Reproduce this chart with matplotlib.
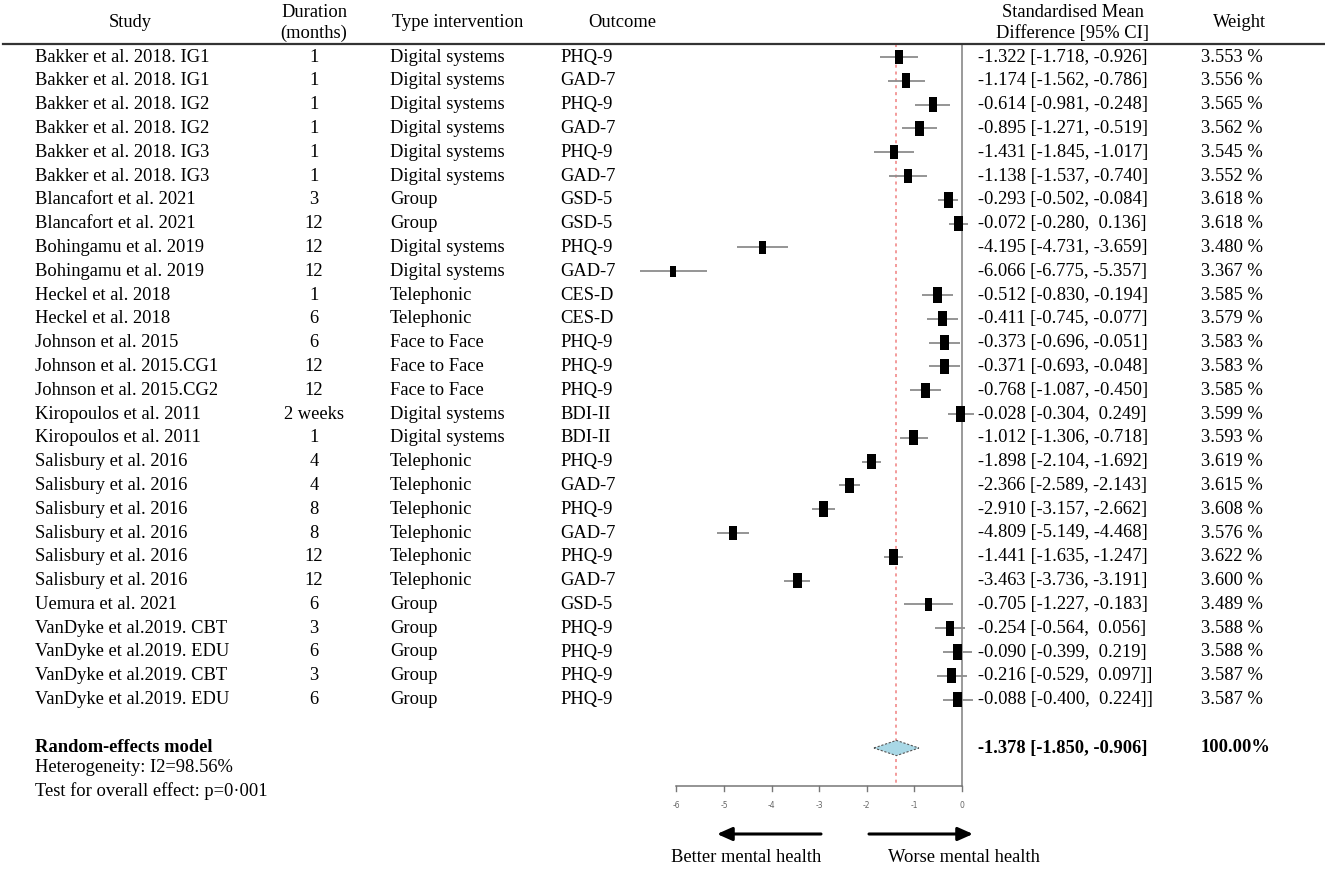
import matplotlib
matplotlib.use("Agg")
import matplotlib.pyplot as plt
from matplotlib.path import Path
from matplotlib.patches import Polygon
import numpy as np

plt.rcParams['font.family'] = ['Liberation Serif', 'DejaVu Serif']

# ---------------- data ----------------
studies = ["Bakker et al. 2018. IG1", "Bakker et al. 2018. IG1", "Bakker et al. 2018. IG2",
           "Bakker et al. 2018. IG2", "Bakker et al. 2018. IG3", "Bakker et al. 2018. IG3",
           "Blancafort et al. 2021", "Blancafort et al. 2021", "Bohingamu et al. 2019",
           "Bohingamu et al. 2019", "Heckel et al. 2018", "Heckel et al. 2018",
           "Johnson et al. 2015", "Johnson et al. 2015.CG1", "Johnson et al. 2015.CG2",
           "Kiropoulos et al. 2011", "Kiropoulos et al. 2011", "Salisbury et al. 2016",
           "Salisbury et al. 2016", "Salisbury et al. 2016", "Salisbury et al. 2016",
           "Salisbury et al. 2016", "Salisbury et al. 2016", "Uemura et al. 2021",
           "VanDyke et al.2019. CBT", "VanDyke et al.2019. EDU", "VanDyke et al.2019. CBT",
           "VanDyke et al.2019. EDU"]
durations = ["1", "1", "1", "1", "1", "1", "3", "12", "12", "12", "1", "6", "6", "12", "12",
             "2 weeks", "1", "4", "4", "8", "8", "12", "12", "6", "3", "6", "3", "6"]
interventions = ["Digital systems"] * 6 + ["Group"] * 2 + ["Digital systems"] * 2 + \
                ["Telephonic"] * 2 + ["Face to Face"] * 3 + ["Digital systems"] * 2 + \
                ["Telephonic"] * 6 + ["Group"] * 5
outcomes = ["PHQ-9", "GAD-7", "PHQ-9", "GAD-7", "PHQ-9", "GAD-7", "GSD-5", "GSD-5",
            "PHQ-9", "GAD-7", "CES-D", "CES-D", "PHQ-9", "PHQ-9", "PHQ-9", "BDI-II", "BDI-II",
            "PHQ-9", "GAD-7", "PHQ-9", "GAD-7", "PHQ-9", "GAD-7", "GSD-5", "PHQ-9", "PHQ-9",
            "PHQ-9", "PHQ-9"]
smd = [-1.322, -1.174, -0.614, -0.895, -1.431, -1.138, -0.293, -0.072, -4.195, -6.066,
       -0.512, -0.411, -0.373, -0.371, -0.768, -0.028, -1.012, -1.898, -2.366, -2.910,
       -4.809, -1.441, -3.463, -0.705, -0.254, -0.090, -0.216, -0.088]
ci_low = [-1.718, -1.562, -0.981, -1.271, -1.845, -1.537, -0.502, -0.280, -4.731, -6.775,
          -0.830, -0.745, -0.696, -0.693, -1.087, -0.304, -1.306, -2.104, -2.589, -3.157,
          -5.149, -1.635, -3.736, -1.227, -0.564, -0.399, -0.529, -0.400]
ci_high = [-0.926, -0.786, -0.248, -0.519, -1.017, -0.740, -0.084, 0.136, -3.659, -5.357,
           -0.194, -0.077, -0.051, -0.048, -0.450, 0.249, -0.718, -1.692, -2.143, -2.662,
           -4.468, -1.247, -3.191, -0.183, 0.056, 0.219, 0.097, 0.224]
ci_suffix = [""] * 26 + ["]", "]"]
weights = [3.553, 3.556, 3.565, 3.562, 3.545, 3.552, 3.618, 3.618, 3.480, 3.367,
           3.585, 3.579, 3.583, 3.583, 3.585, 3.599, 3.593, 3.619, 3.615, 3.608,
           3.576, 3.622, 3.600, 3.489, 3.588, 3.588, 3.587, 3.587]
pooled_est, pooled_low, pooled_high = -1.378, -1.850, -0.906
pooled_weight = 100.00
heterogeneity_text = "Heterogeneity: I2=98.56%"
overall_text = "Test for overall effect: p=0\u00b7001"
x_ticks = [-6, -5, -4, -3, -2, -1, 0]

# ---------------- layout ----------------
W, H = 1325, 869
fig = plt.figure(figsize=(W / 100, H / 100), dpi=100)
ax = fig.add_axes([0, 0, 1, 1])
ax.set_axis_off()

px0, ppu = 962.0, 47.6          # pixel of x=0, pixels per unit
row0, rowh = 57.0, 23.8         # pixel of first row, row height
ax.set_xlim((0 - px0) / ppu, (W - px0) / ppu)
ax.set_ylim((H - row0) / rowh, (0 - row0) / rowh)


def ry(py):
    return (py - row0) / rowh


def fx(px):
    return px / W


T = ax.get_yaxis_transform()  # x in axes fraction, y in data rows
FS = 13.3
n = len(studies)
rows = np.arange(n)

# headers
ax.text(fx(130), ry(22), "Study", transform=T, ha='center', va='center', fontsize=FS)
ax.text(fx(314), ry(12), "Duration", transform=T, ha='center', va='center', fontsize=FS)
ax.text(fx(314), ry(33), "(months)", transform=T, ha='center', va='center', fontsize=FS)
ax.text(fx(392), ry(22), "Type intervention", transform=T, ha='left', va='center', fontsize=FS)
ax.text(fx(588), ry(22), "Outcome", transform=T, ha='left', va='center', fontsize=FS)
ax.text(fx(1073), ry(12), "Standardised Mean", transform=T, ha='center', va='center', fontsize=FS)
ax.text(fx(1073), ry(33), "Difference [95% CI]", transform=T, ha='center', va='center', fontsize=FS)
ax.text(fx(1240), ry(22), "Weight", transform=T, ha='center', va='center', fontsize=FS)
ax.plot([fx(3), fx(1325)], [ry(44), ry(44)], transform=T, color='#333333', lw=1.6,
        clip_on=False)

# table rows
for i in range(n):
    ax.text(fx(35), i, studies[i], transform=T, ha='left', va='center', fontsize=FS)
    ax.text(fx(314), i, durations[i], transform=T, ha='center', va='center', fontsize=FS)
    ax.text(fx(390), i, interventions[i], transform=T, ha='left', va='center', fontsize=FS)
    ax.text(fx(560), i, outcomes[i], transform=T, ha='left', va='center', fontsize=FS)
    ci_txt = f"{smd[i]:.3f} [{ci_low[i]:.3f}, {ci_high[i]:6.3f}]" + ci_suffix[i]
    ax.text(fx(978), i, ci_txt, transform=T, ha='left', va='center', fontsize=FS)
    ax.text(fx(1201), i, f"{weights[i]:.3f} %", transform=T, ha='left', va='center',
            fontsize=FS)

# reference lines
top, axis_y = ry(44), ry(786)
ax.plot([0, 0], [top, axis_y], color='#9a9a9a', lw=1.4, zorder=1)
ax.plot([pooled_est, pooled_est], [top, axis_y], color='#f08080', lw=1.1,
        linestyle=(0, (2, 2.5)), zorder=1)

# confidence intervals and point estimates
ax.hlines(rows, ci_low, ci_high, color='#8c8c8c', lw=1.3, zorder=2)
rect = Path([(-4, -7), (4, -7), (4, 7), (-4, 7), (-4, -7)],
            [Path.MOVETO, Path.LINETO, Path.LINETO, Path.LINETO, Path.CLOSEPOLY])
w_arr = np.array(weights)
h_px = 14.5 + (w_arr - 3.55) * 18
sizes = (h_px * 72 / 100) ** 2
ax.scatter(smd, rows, s=sizes, marker=rect, color='black', linewidths=0, zorder=3)

# pooled diamond
sr = ry(748)
dh = 0.32
diamond = Polygon([(pooled_low, sr), (pooled_est, sr - dh), (pooled_high, sr),
                   (pooled_est, sr + dh)], closed=True, facecolor='#a9d8e6',
                  edgecolor='#555555', lw=0.8, linestyle=(0, (2, 1.5)), zorder=3)
ax.add_patch(diamond)
ax.text(fx(35), sr, "Random-effects model", transform=T, ha='left', va='center',
        fontsize=FS, fontweight='bold')
ax.text(fx(35), ry(768), heterogeneity_text, transform=T, ha='left', va='center', fontsize=FS)
ax.text(fx(35), ry(791), overall_text, transform=T, ha='left', va='center', fontsize=FS)
ax.text(fx(978), sr, f"{pooled_est:.3f} [{pooled_low:.3f}, {pooled_high:.3f}]",
        transform=T, ha='left', va='center', fontsize=FS, fontweight='bold')
ax.text(fx(1201), sr, f"{pooled_weight:.2f}%", transform=T, ha='left', va='center',
        fontsize=FS, fontweight='bold')

# bottom axis
ax.plot([x_ticks[0], x_ticks[-1]], [axis_y, axis_y], color='#777777', lw=1.1, zorder=2)
tick_len = 5 / rowh
for t in x_ticks:
    ax.plot([t, t], [axis_y, axis_y + tick_len], color='#777777', lw=1.0)
    ax.text(t, ry(806), f"{t}", ha='center', va='center', fontsize=5.5, color='#666666',
            family='DejaVu Sans')

# arrows
ay = ry(834)
ax.annotate("", xy=((717 - px0) / ppu, ay), xytext=((821 - px0) / ppu, ay),
            arrowprops=dict(arrowstyle='-|>,head_length=0.9,head_width=0.4', color='black',
                            lw=2.2, shrinkA=0, shrinkB=0))
ax.annotate("", xy=((973 - px0) / ppu, ay), xytext=((869 - px0) / ppu, ay),
            arrowprops=dict(arrowstyle='-|>,head_length=0.9,head_width=0.4', color='black',
                            lw=2.2, shrinkA=0, shrinkB=0))
ax.text(fx(746), ry(858), "Better mental health", transform=T, ha='center', va='center',
        fontsize=FS)
ax.text(fx(964), ry(858), "Worse mental health", transform=T, ha='center', va='center',
        fontsize=FS)

fig.savefig("out.png", dpi=100)
